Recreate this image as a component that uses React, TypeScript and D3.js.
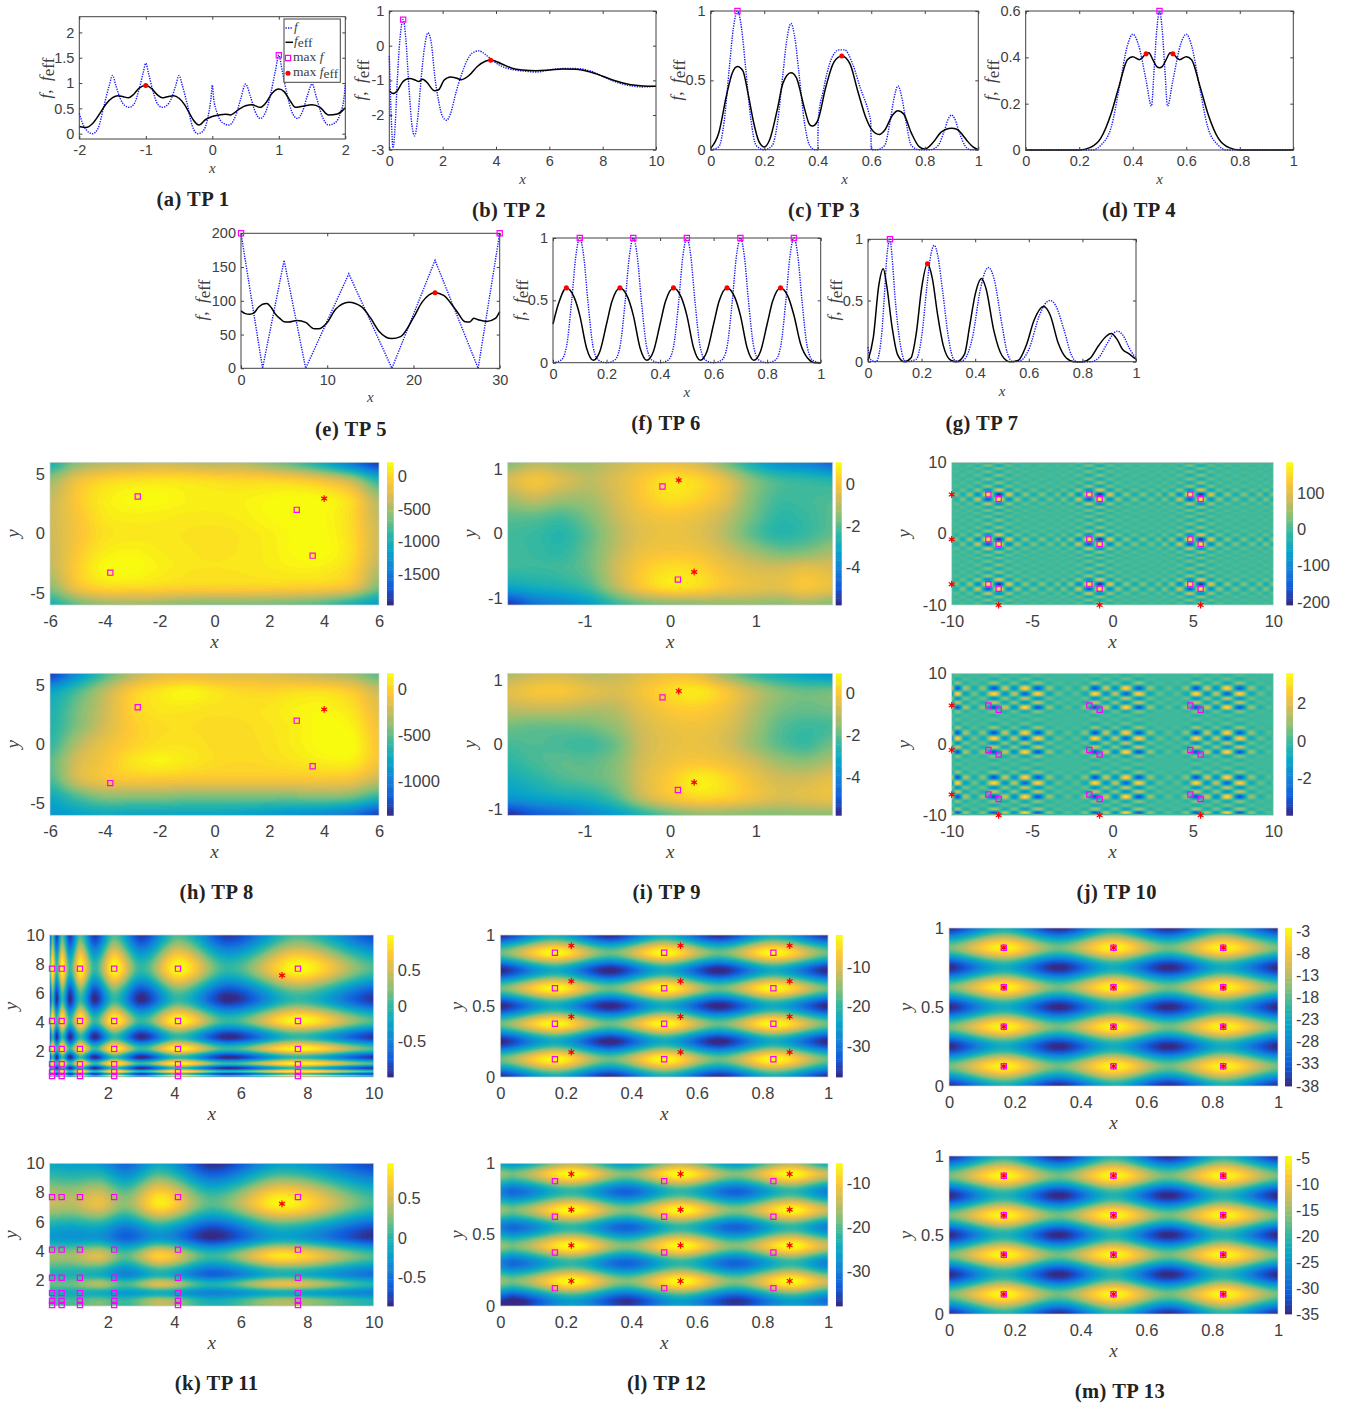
import React, { useEffect, useRef } from 'react';
import * as d3 from 'd3';

const SANS = '"Liberation Sans", Arial, sans-serif';
const SERIF = '"Liberation Serif", serif';
const INK = '#404040';
const PARULA = ['#352a87', '#0f5cdd', '#1481d6', '#06a4ca', '#2eb7a4', '#87bf77', '#d1bb59', '#fec832', '#f9fb0e'];

// ---- line panels: values ----
const tp1X = [-2, -1.92, -1.8, -1.72, -1.62, -1.55, -1.5, -1.45, -1.38, -1.32, -1.25, -1.18, -1.1, -1.04, -1, -0.96, -0.9, -0.82, -0.75, -0.68, -0.62, -0.55, -0.5, -0.45, -0.38, -0.3, -0.22, -0.14, -0.07, -0.02, 0, 0.02, 0.07, 0.15, 0.25, 0.35, 0.43, 0.5, 0.57, 0.64, 0.72, 0.8, 0.88, 0.95, 1, 1.05, 1.12, 1.2, 1.28, 1.36, 1.43, 1.5, 1.57, 1.65, 1.75, 1.85, 1.93, 1.98, 2];
const tp1F = [0.4, 0.12, 0, 0.1, 0.6, 0.95, 1.15, 0.95, 0.68, 0.56, 0.52, 0.58, 0.88, 1.2, 1.39, 1.2, 0.88, 0.58, 0.52, 0.56, 0.68, 0.95, 1.15, 0.95, 0.6, 0.15, 0, 0.05, 0.3, 0.7, 0.96, 0.7, 0.42, 0.22, 0.17, 0.35, 0.7, 0.98, 0.75, 0.45, 0.3, 0.42, 0.8, 1.25, 1.55, 1.25, 0.8, 0.42, 0.3, 0.45, 0.75, 0.98, 0.7, 0.35, 0.17, 0.22, 0.42, 0.7, 0.96];
const tp1EffX = [-2, -1.9, -1.8, -1.7, -1.6, -1.5, -1.42, -1.34, -1.26, -1.18, -1.1, -1, -0.92, -0.82, -0.75, -0.68, -0.58, -0.5, -0.42, -0.35, -0.28, -0.2, -0.1, 0, 0.1, 0.2, 0.27, 0.4, 0.5, 0.6, 0.72, 0.8, 0.9, 1, 1.08, 1.17, 1.25, 1.35, 1.5, 1.62, 1.75, 1.88, 2];
const tp1Eff = [0.14, 0.12, 0.2, 0.38, 0.58, 0.71, 0.75, 0.73, 0.71, 0.78, 0.9, 0.95, 0.9, 0.76, 0.71, 0.73, 0.75, 0.7, 0.58, 0.42, 0.26, 0.17, 0.28, 0.34, 0.37, 0.385, 0.37, 0.48, 0.55, 0.57, 0.52, 0.6, 0.8, 0.88, 0.83, 0.65, 0.52, 0.54, 0.57, 0.52, 0.37, 0.39, 0.51];

const tp2X = [0, 0.07, 0.14, 0.22, 0.3, 0.4, 0.52, 0.62, 0.72, 0.85, 0.95, 1.05, 1.2, 1.32, 1.45, 1.58, 1.7, 1.85, 2, 2.15, 2.3, 2.5, 2.7, 2.9, 3.1, 3.35, 3.6, 3.8, 4.1, 4.5, 5, 5.5, 6, 6.5, 7, 7.5, 8, 8.5, 9, 9.5, 10];
const tp2F = [-0.3, -2, -2.95, -2.3, -1, 0.2, 0.75, 0.2, -1, -2.3, -2.6, -2.2, -0.9, -0.05, 0.37, 0.05, -0.85, -1.6, -2.05, -2.15, -1.95, -1.35, -0.85, -0.45, -0.22, -0.15, -0.25, -0.38, -0.55, -0.67, -0.73, -0.76, -0.7, -0.66, -0.66, -0.72, -0.88, -1.05, -1.15, -1.19, -1.17];
const tp2EffX = [0, 0.15, 0.3, 0.5, 0.75, 1, 1.1, 1.25, 1.4, 1.7, 1.85, 2.05, 2.3, 2.5, 2.7, 3, 3.3, 3.6, 3.8, 4.2, 4.6, 5, 5.5, 6, 6.5, 7, 7.5, 8, 8.5, 9, 9.5, 10];
const tp2Eff = [-1.3, -1.38, -1.3, -1.05, -0.95, -1, -1.03, -0.97, -1.05, -1.3, -1.27, -1, -0.9, -0.93, -0.98, -0.85, -0.6, -0.45, -0.41, -0.52, -0.65, -0.7, -0.72, -0.7, -0.67, -0.68, -0.75, -0.88, -1.02, -1.12, -1.16, -1.17];

const tp3X = [0, 0.03, 0.05, 0.07, 0.085, 0.1, 0.115, 0.13, 0.15, 0.17, 0.2, 0.23, 0.25, 0.27, 0.285, 0.3, 0.315, 0.33, 0.35, 0.37, 0.39, 0.4, 0.402, 0.42, 0.45, 0.48, 0.5, 0.53, 0.56, 0.59, 0.598, 0.6, 0.62, 0.65, 0.67, 0.685, 0.7, 0.715, 0.73, 0.75, 0.78, 0.82, 0.85, 0.87, 0.89, 0.9, 0.91, 0.93, 0.95, 0.97, 1];
const tp3F = [0, 0.02, 0.2, 0.6, 0.88, 1, 0.88, 0.6, 0.22, 0.03, 0, 0.03, 0.2, 0.55, 0.8, 0.91, 0.8, 0.55, 0.2, 0.03, 0, 0, 0.22, 0.42, 0.65, 0.72, 0.72, 0.62, 0.44, 0.27, 0.2, 0, 0, 0.03, 0.2, 0.37, 0.46, 0.37, 0.2, 0.03, 0, 0, 0.03, 0.12, 0.23, 0.25, 0.23, 0.12, 0.03, 0, 0];
const tp3EffX = [0, 0.03, 0.06, 0.08, 0.1, 0.12, 0.14, 0.16, 0.18, 0.2, 0.22, 0.25, 0.27, 0.3, 0.32, 0.35, 0.37, 0.38, 0.4, 0.43, 0.46, 0.49, 0.52, 0.55, 0.58, 0.6, 0.63, 0.65, 0.68, 0.7, 0.72, 0.75, 0.78, 0.8, 0.83, 0.86, 0.88, 0.9, 0.92, 0.94, 0.96, 0.98, 1];
const tp3Eff = [0.01, 0.12, 0.4, 0.55, 0.6, 0.57, 0.4, 0.2, 0.06, 0.02, 0.07, 0.3, 0.48, 0.555, 0.52, 0.3, 0.18, 0.17, 0.21, 0.45, 0.63, 0.675, 0.62, 0.42, 0.23, 0.15, 0.11, 0.14, 0.25, 0.28, 0.26, 0.12, 0.02, 0.005, 0.05, 0.125, 0.148, 0.155, 0.148, 0.11, 0.06, 0.02, 0];

const tp4X = [0, 0.25, 0.28, 0.32, 0.35, 0.38, 0.4, 0.42, 0.45, 0.47, 0.48, 0.49, 0.5, 0.51, 0.52, 0.53, 0.55, 0.58, 0.6, 0.62, 0.65, 0.68, 0.72, 0.75, 1];
const tp4F = [0, 0, 0.02, 0.1, 0.27, 0.45, 0.5, 0.46, 0.3, 0.19, 0.35, 0.52, 0.6, 0.52, 0.35, 0.19, 0.3, 0.46, 0.5, 0.45, 0.27, 0.1, 0.02, 0, 0];
const tp4EffX = [0, 0.2, 0.24, 0.28, 0.32, 0.35, 0.38, 0.4, 0.425, 0.45, 0.46, 0.475, 0.49, 0.5, 0.51, 0.525, 0.54, 0.55, 0.575, 0.6, 0.62, 0.65, 0.68, 0.72, 0.76, 0.8, 1];
const tp4Eff = [0, 0, 0.01, 0.05, 0.16, 0.28, 0.39, 0.403, 0.39, 0.415, 0.42, 0.39, 0.36, 0.355, 0.36, 0.39, 0.42, 0.415, 0.39, 0.403, 0.39, 0.28, 0.16, 0.05, 0.01, 0, 0];

const tp5X = [0, 2.5, 5, 7.5, 12.5, 17.5, 22.5, 27.5, 30];
const tp5F = [200, 0, 160, 0, 140, 0, 160, 0, 200];
const tp5EffX = [0, 0.5, 1, 1.5, 2, 2.5, 3, 3.5, 4, 4.5, 5, 5.5, 6.5, 7.5, 8.5, 9, 10, 11, 12.5, 14, 15, 16, 17.5, 18.5, 20, 21, 22.5, 23.5, 25, 26, 26.5, 27, 27.5, 28.5, 29.5, 30];
const tp5Eff = [85, 81, 80, 82, 90, 95, 96, 90, 80, 74, 69, 68.5, 71, 68, 58.5, 58.5, 68, 88, 98, 91, 75, 55, 44, 47, 75, 98, 112, 108, 85, 69, 68.5, 74, 72, 69.5, 74, 84];

const tp6X = [0, 0.03, 0.05, 0.07, 0.085, 0.1, 0.115, 0.13, 0.15, 0.17, 0.2, 0.23, 0.25, 0.27, 0.285, 0.3, 0.315, 0.33, 0.35, 0.37, 0.4, 0.43, 0.45, 0.47, 0.485, 0.5, 0.515, 0.53, 0.55, 0.57, 0.6, 0.63, 0.65, 0.67, 0.685, 0.7, 0.715, 0.73, 0.75, 0.77, 0.8, 0.83, 0.85, 0.87, 0.885, 0.9, 0.915, 0.93, 0.95, 0.97, 1];
const tp6F = [0, 0.02, 0.125, 0.5, 0.85, 1, 0.85, 0.5, 0.125, 0.02, 0, 0.02, 0.125, 0.5, 0.85, 1, 0.85, 0.5, 0.125, 0.02, 0, 0.02, 0.125, 0.5, 0.85, 1, 0.85, 0.5, 0.125, 0.02, 0, 0.02, 0.125, 0.5, 0.85, 1, 0.85, 0.5, 0.125, 0.02, 0, 0.02, 0.125, 0.5, 0.85, 1, 0.85, 0.5, 0.125, 0.02, 0];
const tp6EffX = [0, 0.02, 0.05, 0.08, 0.1, 0.125, 0.15, 0.175, 0.2, 0.22, 0.25, 0.28, 0.3, 0.325, 0.35, 0.375, 0.4, 0.42, 0.45, 0.48, 0.5, 0.525, 0.55, 0.575, 0.6, 0.62, 0.65, 0.68, 0.7, 0.725, 0.75, 0.775, 0.8, 0.82, 0.85, 0.88, 0.9, 0.925, 0.95, 0.98, 1];
const tp6Eff = [0.31, 0.47, 0.6, 0.52, 0.38, 0.12, 0.02, 0.09, 0.31, 0.49, 0.6, 0.52, 0.38, 0.12, 0.02, 0.09, 0.31, 0.49, 0.6, 0.52, 0.38, 0.12, 0.02, 0.09, 0.31, 0.49, 0.6, 0.52, 0.38, 0.12, 0.02, 0.09, 0.31, 0.49, 0.6, 0.52, 0.38, 0.15, 0.04, 0, 0];

const tp7X = [0, 0.008, 0.03, 0.05, 0.06, 0.07, 0.082, 0.09, 0.1, 0.12, 0.14, 0.18, 0.2, 0.22, 0.235, 0.2475, 0.26, 0.28, 0.3, 0.32, 0.34, 0.36, 0.39, 0.42, 0.44, 0.45, 0.47, 0.5, 0.52, 0.54, 0.57, 0.6, 0.64, 0.66, 0.68, 0.7, 0.73, 0.76, 0.78, 0.83, 0.86, 0.89, 0.92, 0.93, 0.95, 0.98, 1];
const tp7F = [0.12, 0.02, 0, 0.2, 0.5, 0.85, 1, 0.85, 0.55, 0.15, 0, 0.02, 0.2, 0.62, 0.88, 0.95, 0.87, 0.55, 0.2, 0.02, 0, 0.02, 0.2, 0.6, 0.75, 0.77, 0.68, 0.3, 0.07, 0, 0.01, 0.1, 0.38, 0.47, 0.5, 0.46, 0.27, 0.05, 0, 0, 0.03, 0.14, 0.24, 0.25, 0.22, 0.09, 0.03];
const tp7EffX = [0, 0.02, 0.04, 0.057, 0.07, 0.09, 0.11, 0.135, 0.16, 0.18, 0.2, 0.222, 0.24, 0.26, 0.28, 0.31, 0.33, 0.36, 0.38, 0.4, 0.424, 0.44, 0.47, 0.5, 0.53, 0.56, 0.59, 0.62, 0.655, 0.68, 0.71, 0.74, 0.77, 0.8, 0.83, 0.86, 0.89, 0.907, 0.93, 0.95, 0.97, 1];
const tp7Eff = [0.01, 0.2, 0.62, 0.76, 0.62, 0.28, 0.06, 0, 0.03, 0.23, 0.6, 0.8, 0.68, 0.38, 0.14, 0.01, 0, 0.06, 0.3, 0.55, 0.68, 0.6, 0.25, 0.05, 0, 0.01, 0.13, 0.34, 0.45, 0.38, 0.15, 0.03, 0, 0, 0.03, 0.13, 0.21, 0.23, 0.18, 0.1, 0.07, 0.02];

// ---- heat map grids: rows run top to bottom, cells estimated by colour ----
const tp8X = [-6, -5, -4, -3, -2, -1, 0, 1, 2, 3, 4, 5, 6];
const tp8Y = [6, 4.5, 3, 1.5, 0, -1.5, -3, -4.5, -6];
const tp8Top = [
  [-1000, -600, -450, -400, -350, -400, -450, -450, -600, -800, -1100, -1500, -1900],
  [-550, -180, -10, 50, 70, 60, 30, 0, -10, -60, -180, -430, -950],
  [-400, -80, 110, 190, 190, 140, 120, 130, 170, 190, 160, -10, -500],
  [-350, -110, 90, 130, 120, 100, 100, 120, 180, 200, 180, 10, -400],
  [-350, -130, 50, 90, 90, 70, 55, 80, 130, 190, 190, 30, -350],
  [-380, -90, 110, 150, 110, 80, 60, 80, 120, 190, 200, 40, -350],
  [-420, -50, 180, 200, 130, 80, 70, 80, 100, 130, 110, -20, -450],
  [-600, -160, 10, 20, 0, -30, -30, -30, -30, -50, -70, -200, -650],
  [-1000, -700, -550, -520, -560, -620, -650, -650, -670, -700, -800, -1000, -1200],
];
const tp8Bottom = [
  [-1300, -900, -550, -300, -150, -130, -150, -160, -170, -220, -280, -350, -520],
  [-800, -550, -280, -30, 80, 140, 80, 30, 20, 50, 50, -30, -230],
  [-680, -450, -230, 10, 85, 85, 65, 65, 85, 130, 140, 70, -130],
  [-650, -420, -200, -20, 45, 55, 40, 45, 75, 115, 170, 130, -80],
  [-600, -300, -110, 0, 65, 75, 45, 40, 65, 115, 170, 170, -50],
  [-500, -200, -60, 70, 130, 90, 45, 30, 45, 75, 110, 110, -60],
  [-550, -220, -80, -50, -50, -60, -60, -60, -60, -60, -60, -90, -250],
  [-750, -550, -420, -420, -420, -450, -450, -450, -450, -450, -430, -480, -650],
  [-880, -800, -750, -770, -770, -780, -780, -800, -850, -900, -950, -1050, -1300],
];
const tp8Squares = [[-2.8, 3.13], [3, 2], [-3.8, -3.28], [3.58, -1.85]];
const tp8Stars = [[4, 2.95]];

const tp9X = [-1.9, -1.58, -1.27, -0.95, -0.63, -0.32, 0, 0.32, 0.63, 0.95, 1.27, 1.58, 1.9];
const tp9Y = [1.1, 0.825, 0.55, 0.275, 0, -0.275, -0.55, -0.825, -1.1];
const tp9Top = [
  [-1.6, -1, -1.2, -1.2, -0.8, -0.4, -0.3, -0.6, -1.6, -2.8, -3.7, -4, -4.7],
  [-0.6, -0.05, -0.5, -0.9, -0.5, 0.1, 0.6, 0.4, -0.3, -1.5, -2.2, -2.4, -2.6],
  [-1.2, -0.8, -1.2, -1.2, -0.6, 0.1, 0.55, 0.3, -0.3, -1.5, -2.2, -2.2, -2.1],
  [-1.9, -1.9, -2.1, -1.6, -0.8, -0.2, 0, -0.2, -0.8, -1.7, -2.4, -2.3, -2],
  [-2.2, -2.3, -2.5, -1.9, -1, -0.4, -0.2, -0.4, -1, -1.9, -2.5, -2.3, -1.9],
  [-2.2, -2.3, -2.4, -1.8, -0.9, -0.2, 0, -0.1, -0.6, -1.2, -1.7, -1.6, -1.2],
  [-2.3, -2.3, -2.2, -1.8, -0.7, 0.15, 0.55, 0.4, -0.1, -0.5, -0.6, -0.3, -0.5],
  [-3.2, -2.9, -2.7, -2.2, -1, 0.05, 0.6, 0.45, 0, -0.3, -0.4, 0, -0.3],
  [-5.6, -4.5, -4, -3.4, -2.4, -1.8, -1.6, -1.5, -1.4, -1.4, -1.5, -1.3, -1.6],
];
const tp9Bottom = [
  [-1.2, -0.8, -0.7, -1, -0.9, -0.5, -0.2, -0.4, -1.4, -2.3, -2.9, -3.3, -3.6],
  [-0.5, -0.1, -0.05, -0.4, -0.6, -0.1, 0.4, 0.6, 0, -0.9, -1.6, -1.9, -1.8],
  [-1, -0.9, -0.9, -1.1, -1, -0.4, 0.05, 0.15, -0.2, -1, -1.7, -1.9, -1.8],
  [-1.8, -1.9, -1.9, -1.8, -1.4, -0.7, -0.3, -0.2, -0.5, -1.2, -2, -2.3, -2.2],
  [-2.2, -2.1, -2.2, -2.3, -1.8, -0.8, -0.4, -0.3, -0.6, -1.3, -2, -2.3, -1.8],
  [-2.5, -2.2, -2, -2, -1.6, -0.7, -0.2, 0, -0.2, -0.7, -1.3, -1.5, -1.1],
  [-3, -2.6, -2.2, -2, -1.6, -0.6, 0.1, 0.7, 0.4, -0.2, -0.7, -0.7, -0.4],
  [-3.6, -3.3, -3, -2.8, -2.1, -0.9, -0.1, 0.3, 0.2, -0.2, -0.6, -0.5, -0.3],
  [-5.7, -5, -4.6, -4, -3.4, -2.6, -1.9, -1.5, -1.5, -1.6, -1.6, -1.5, -1.5],
];
const tp9Squares = [[-0.09, 0.727], [0.09, -0.708]];
const tp9Stars = [[0.1, 0.825], [0.28, -0.59]];

// TP10 is a checker: cell = -(band on x) * (band on y), with the bands read along the lobes
const tp10TopLines = [-10.17, -9.67, -9.33, -8.83, -8.35, -7.72, -7.08, -6.48, -5.95, -5.43, -4.9, -4.38, -3.88, -3.38, -3.05, -2.55, -2.07, -1.44, -0.8, -0.2, 0.33, 0.85, 1.38, 1.9, 2.4, 2.9, 3.23, 3.73, 4.21, 4.84, 5.48, 6.08, 6.61, 7.13, 7.66, 8.18, 8.68, 9.18, 9.52, 10.02];
const tp10TopBands = [2.4, -2.4, 3, -3.5, 6.5, -12.8, 14.5, -7.5, 4, -3.2, 2.8, -2.8, 2.4, -2.4, 3, -3.5, 6.5, -12.8, 14.5, -7.5, 4, -3.2, 2.8, -2.8, 2.4, -2.4, 3, -3.5, 6.5, -12.8, 14.5, -7.5, 4, -3.2, 2.8, -2.8, 2.4, -2.4, 3, -3.5];
const tp10BottomLines = [-10, -9.65, -9.2, -8.6, -8, -7.36, -6.7, -6.09, -5.43, -4.68, -4, -3.4, -2.8, -2.2, -1.6, -1.08, -0.42, 0.19, 0.85, 1.6, 2.28, 2.88, 3.48, 4.08, 4.68, 5.2, 5.86, 6.47, 7.13, 7.88, 8.56, 9.16, 9.76, 10];
const tp10BottomBands = [-1, 1.8, -0.7, 0.4, -0.5, 1.85, -1, 1, -1.7, 1.75, -0.55, 0.3, -0.2, 0.2, -0.45, 1.85, -1, 1, -1.7, 1.75, -0.55, 0.3, -0.2, 0.2, -0.45, 1.85, -1, 1, -1.7, 1.75, -0.55, 0.3, -0.2, 0.15];
const tp10Squares = [[-7.72, 5.48], [-7.08, 4.86], [-1.44, 5.48], [-0.8, 4.86], [4.84, 5.48], [5.48, 4.86], [-7.72, -0.8], [-7.08, -1.44], [-1.44, -0.8], [-0.8, -1.44], [4.84, -0.8], [5.48, -1.44], [-7.72, -7.08], [-7.08, -7.72], [-1.44, -7.08], [-0.8, -7.72], [4.84, -7.08], [5.48, -7.72]];
const tp10Stars = [[-10, 5.48], [-10, -0.8], [-10, -7.08], [-7.08, -10], [-0.8, -10], [5.48, -10]];

const tp11X = [0.25, 0.333, 0.456, 0.625, 0.855, 1.17, 1.6, 2.19, 3, 4.11, 5.62, 7.7, 10];
const tp11Y = [10, 7.7, 5.62, 4.11, 3, 2.19, 1.6, 1.17, 0.855, 0.625, 0.456, 0.333, 0.25];
const tp11Edge = [-0.9, 0.08, -0.92, 0.08, -0.92, 0.08, -0.92, 0.08, -0.92, 0.08, -0.92, 0.08, -0.85];
const tp11Peak = [0.02, 1, 0, 1, 0, 1, 0, 1, 0, 1, 0, 1, 0.08];
const tp11Trough = [-0.98, 0, -1, 0, -1, 0, -1, 0, -1, 0, -1, 0, -0.93];
const tp11Low = [-0.96, 0.02, -0.98, 0.02, -0.98, 0.02, -0.98, 0.02, -0.98, 0.02, -0.98, 0.02, -0.9];
const tp11Top = [tp11Edge, tp11Peak, tp11Trough, tp11Peak, tp11Trough, tp11Peak, tp11Trough, tp11Peak, tp11Trough, tp11Peak, tp11Trough, tp11Peak, tp11Low];
const tp11BottomX = [0.25, 0.9, 1.75, 2.55, 3.6, 5.15, 7.25, 10];
const tp11BottomY = [10, 7.3, 5.05, 3.7, 2.45, 1.75, 1.15, 0.65, 0.25];
const tp11Bottom = [
  [-0.15, -0.2, -0.25, -0.55, -0.15, -0.85, -0.2, -0.75],
  [0.45, 0.42, 0.6, 0.3, 0.88, 0.15, 0.93, 0.1],
  [-0.25, -0.3, -0.3, -0.6, -0.3, -0.87, -0.2, -0.85],
  [0.35, 0.35, 0.55, 0.15, 0.75, 0.05, 0.85, 0.1],
  [-0.05, -0.05, -0.1, -0.4, -0.05, -0.6, -0.05, -0.5],
  [0.2, 0.2, 0.4, 0.1, 0.55, -0.05, 0.6, -0.05],
  [-0.1, -0.1, -0.1, -0.25, -0.1, -0.4, -0.1, -0.4],
  [0.1, 0.1, 0.2, 0.05, 0.4, -0.1, 0.35, -0.05],
  [0.1, 0.1, 0.25, 0.05, 0.45, -0.05, 0.4, -0.05],
];
const tp11SquareX = [0.32, 0.61, 1.16, 2.19, 4.11, 7.72];
const tp11SquareY = [7.69, 4.1, 2.18, 1.13, 0.6, 0.32];
const tp11Stars = [[7.24, 7.23]];

const tp12X = [0, 1 / 6, 1 / 3, 1 / 2, 2 / 3, 5 / 6, 1];
const tp12Y = [1, 7 / 8, 3 / 4, 5 / 8, 1 / 2, 3 / 8, 1 / 4, 1 / 8, 0];
const tp12TopTrough = [-38, -23, -38, -23, -38, -23, -38];
const tp12TopPeak = [-17, -2, -17, -2, -17, -2, -17];
const tp12Top = [tp12TopTrough, tp12TopPeak, tp12TopTrough, tp12TopPeak, tp12TopTrough, tp12TopPeak, tp12TopTrough, tp12TopPeak, tp12TopTrough];
const tp12BottomX = [0, 0.05, 0.217, 0.383, 0.55, 0.717, 0.883, 1];
const tp12BottomY = [1, 0.922, 0.8, 0.672, 0.55, 0.422, 0.3, 0.172, 0.05, 0];
const tp12BottomEdge = [-26, -27, -15, -27, -15, -27, -15, -25];
const tp12BottomPeak = [-17, -18, -5.5, -18, -5.5, -18, -5.5, -14];
const tp12BottomTrough = [-30, -32, -22, -33, -22, -33, -22, -30];
const tp12BottomLow = [-35, -37, -25, -36, -25, -36, -25, -31];
const tp12BottomFloor = [-37, -38, -26, -36, -26, -36, -26, -30];
const tp12Bottom = [tp12BottomEdge, tp12BottomPeak, tp12BottomTrough, tp12BottomPeak, tp12BottomTrough, tp12BottomPeak, tp12BottomTrough, tp12BottomPeak, tp12BottomLow, tp12BottomFloor];
const tp12SquareX = [1 / 6, 1 / 2, 5 / 6];
const tp12SquareY = [0.125, 0.375, 0.625, 0.875];
const tp12StarX = [0.2167, 0.55, 0.883];
const tp12StarY = [0.175, 0.425, 0.675, 0.925];

const tp13TopTrough = [-38, -23, -38, -23, -38, -23, -38];
const tp13TopPeak = [-17, -3, -17, -3, -17, -3, -17];
const tp13Top = [tp13TopTrough, tp13TopPeak, tp13TopTrough, tp13TopPeak, tp13TopTrough, tp13TopPeak, tp13TopTrough, tp13TopPeak, tp13TopTrough];
const tp13BottomTrough = [-35, -21, -35, -21, -35, -21, -35];
const tp13BottomPeak = [-17, -5, -17, -5, -17, -5, -17];
const tp13Bottom = [tp13BottomTrough, tp13BottomPeak, tp13BottomTrough, tp13BottomPeak, tp13BottomTrough, tp13BottomPeak, tp13BottomTrough, tp13BottomPeak, tp13BottomTrough];

const ticks01 = [0, 0.2, 0.4, 0.6, 0.8, 1];

// layout tables built from the arrays above
const linePanels = [
  { box: [79.3, 345.3, 16.7, 139], xDom: [-2, 2], yDom: [-0.105, 2.31], xTicks: [-2, -1, 0, 1, 2], yTicks: [0, 0.5, 1, 1.5, 2], f: [tp1X, tp1F], eff: [tp1EffX, tp1Eff], maxF: [[1, 1.55]], maxEff: [[-1, 0.95]], labelX: 46, labelY: 78 },
  { box: [389.3, 656, 11, 149.7], xDom: [0, 10], yDom: [-3, 1], xTicks: [0, 2, 4, 6, 8, 10], yTicks: [-3, -2, -1, 0, 1], f: [tp2X, tp2F], eff: [tp2EffX, tp2Eff], maxF: [[0.52, 0.75]], maxEff: [[3.8, -0.42]], labelX: 361, labelY: 80 },
  { box: [710.7, 978.3, 11, 149.7], xDom: [0, 1], yDom: [0, 1], xTicks: ticks01, yTicks: [0, 0.5, 1], f: [tp3X, tp3F], eff: [tp3EffX, tp3Eff], maxF: [[0.1, 1]], maxEff: [[0.49, 0.675]], labelX: 677, labelY: 80 },
  { box: [1025.7, 1293.3, 11, 150], xDom: [0, 1], yDom: [0, 0.6], xTicks: ticks01, yTicks: [0, 0.2, 0.4, 0.6], f: [tp4X, tp4F], eff: [tp4EffX, tp4Eff], maxF: [[0.5, 0.6]], maxEff: [[0.45, 0.415], [0.55, 0.415]], labelX: 991, labelY: 80 },
  { box: [241, 499.7, 233.3, 368.3], xDom: [0, 30], yDom: [0, 200], xTicks: [0, 10, 20, 30], yTicks: [0, 50, 100, 150, 200], f: [tp5X, tp5F], fLinear: true, eff: [tp5EffX, tp5Eff], maxF: [[0, 200], [30, 200]], maxEff: [[22.5, 112]], labelX: 202, labelY: 300 },
  { box: [553, 820.7, 238, 362.7], xDom: [0, 1], yDom: [0, 1], xTicks: ticks01, yTicks: [0, 0.5, 1], f: [tp6X, tp6F], eff: [tp6EffX, tp6Eff], maxF: [[0.1, 1], [0.3, 1], [0.5, 1], [0.7, 1], [0.9, 1]], maxEff: [[0.05, 0.6], [0.25, 0.6], [0.45, 0.6], [0.65, 0.6], [0.85, 0.6]], labelX: 520, labelY: 300 },
  { box: [868, 1136, 239.3, 361.7], xDom: [0, 1], yDom: [0, 1], xTicks: ticks01, yTicks: [0, 0.5, 1], f: [tp7X, tp7F], eff: [tp7EffX, tp7Eff], maxF: [[0.082, 1]], maxEff: [[0.222, 0.8]], labelX: 834, labelY: 300 },
];

const outer = (bands: number[]) => bands.slice().reverse().map(by => bands.map(bx => -bx * by));
const cross = (xs: number[], ys: number[]) => ys.flatMap(y => xs.map(x => [x, y]));

const heatPanels = [
  { box: [50, 379, 462.3, 605], cbar: [387, 393.7], cDom: [-1970, 210], cTicks: [0, -500, -1000, -1500], xDom: [-6, 6], yDom: [-6, 6], xTicks: [-6, -4, -2, 0, 2, 4, 6], yTicks: [-5, 0, 5], xLines: tp8X, yLines: tp8Y, grid: tp8Top, squares: tp8Squares, stars: tp8Stars, labelX: 17 },
  { box: [50, 379, 673.3, 815.3], cbar: [387, 393.7], cDom: [-1378, 175], cTicks: [0, -500, -1000], xDom: [-6, 6], yDom: [-6, 6], xTicks: [-6, -4, -2, 0, 2, 4, 6], yTicks: [-5, 0, 5], xLines: tp8X, yLines: tp8Y, grid: tp8Bottom, squares: tp8Squares, stars: tp8Stars, labelX: 17 },
  { box: [507.7, 832.7, 462.3, 605], cbar: [835.7, 841.7], cDom: [-5.8, 1.04], cTicks: [0, -2, -4], xDom: [-1.9, 1.9], yDom: [-1.1, 1.1], xTicks: [-1, 0, 1], yTicks: [-1, 0, 1], xLines: tp9X, yLines: tp9Y, grid: tp9Top, squares: tp9Squares, stars: tp9Stars, labelX: 474 },
  { box: [507.7, 832.7, 673.3, 815.3], cbar: [835.7, 841.7], cDom: [-5.8, 0.95], cTicks: [0, -2, -4], xDom: [-1.9, 1.9], yDom: [-1.1, 1.1], xTicks: [-1, 0, 1], yTicks: [-1, 0, 1], xLines: tp9X, yLines: tp9Y, grid: tp9Bottom, squares: tp9Squares, stars: tp9Stars, labelX: 474 },
  { box: [951.7, 1273.3, 462.3, 605], cbar: [1286.3, 1293], cDom: [-209, 186], cTicks: [100, 0, -100, -200], xDom: [-10, 10], yDom: [-10, 10], xTicks: [-10, -5, 0, 5, 10], yTicks: [-10, 0, 10], xLines: tp10TopLines, yLines: tp10TopLines.slice().reverse(), grid: outer(tp10TopBands), squares: tp10Squares, stars: tp10Stars, labelX: 908 },
  { box: [951.7, 1273.3, 673.3, 815.3], cbar: [1286.3, 1293], cDom: [-3.95, 3.6], cTicks: [2, 0, -2], xDom: [-10, 10], yDom: [-10, 10], xTicks: [-10, -5, 0, 5, 10], yTicks: [-10, 0, 10], xLines: tp10BottomLines, yLines: tp10BottomLines.slice().reverse(), grid: outer(tp10BottomBands), squares: tp10Squares, stars: tp10Stars, labelX: 908 },
  { box: [49.7, 373.7, 935, 1077], cbar: [387.3, 393.7], cDom: [-1, 1], cTicks: [0.5, 0, -0.5], xDom: [0.25, 10], yDom: [0.25, 10], xTicks: [2, 4, 6, 8, 10], yTicks: [2, 4, 6, 8, 10], xLines: tp11X, yLines: tp11Y, grid: tp11Top, squares: cross(tp11SquareX, tp11SquareY), stars: tp11Stars, labelX: 15 },
  { box: [49.7, 373.7, 1163.3, 1306], cbar: [387.3, 393.7], cDom: [-0.87, 0.95], cTicks: [0.5, 0, -0.5], xDom: [0.25, 10], yDom: [0.25, 10], xTicks: [2, 4, 6, 8, 10], yTicks: [2, 4, 6, 8, 10], xLines: tp11BottomX, yLines: tp11BottomY, grid: tp11Bottom, squares: cross(tp11SquareX, tp11SquareY), stars: tp11Stars, labelX: 15 },
  { box: [500.3, 828, 935, 1077], cbar: [836, 842.7], cDom: [-37.8, -1.9], cTicks: [-10, -20, -30], xDom: [0, 1], yDom: [0, 1], xTicks: ticks01, yTicks: [0, 0.5, 1], xLines: tp12X, yLines: tp12Y, grid: tp12Top, squares: cross(tp12SquareX, tp12SquareY), stars: cross(tp12StarX, tp12StarY), labelX: 461 },
  { box: [500.3, 828, 1163.3, 1306], cbar: [836, 842.7], cDom: [-38, -5.5], cTicks: [-10, -20, -30], xDom: [0, 1], yDom: [0, 1], xTicks: ticks01, yTicks: [0, 0.5, 1], xLines: tp12BottomX, yLines: tp12BottomY, grid: tp12Bottom, squares: cross(tp12SquareX, tp12SquareY), stars: cross(tp12StarX, tp12StarY), labelX: 461 },
  { box: [949, 1278, 928, 1086], cbar: [1285, 1292], cDom: [-38, -2.3], cTicks: [-3, -8, -13, -18, -23, -28, -33, -38], xDom: [0, 1], yDom: [0, 1], xTicks: ticks01, yTicks: [0, 0.5, 1], xLines: tp12X, yLines: tp12Y, grid: tp13Top, squares: cross(tp12SquareX, tp12SquareY), stars: cross(tp12SquareX, tp12SquareY), labelX: 910, cSize: 16 },
  { box: [949, 1278, 1156, 1314], cbar: [1285, 1292], cDom: [-35, -4.6], cTicks: [-5, -10, -15, -20, -25, -30, -35], xDom: [0, 1], yDom: [0, 1], xTicks: ticks01, yTicks: [0, 0.5, 1], xLines: tp12X, yLines: tp12Y, grid: tp13Bottom, squares: cross(tp12SquareX, tp12SquareY), stars: cross(tp12SquareX, tp12SquareY), labelX: 910, cSize: 16 },
];

const captions: [string, number, number][] = [
  ['(a) TP 1', 193, 206], ['(b) TP 2', 509, 217], ['(c) TP 3', 824, 217], ['(d) TP 4', 1139, 217],
  ['(e) TP 5', 351, 436], ['(f) TP 6', 666, 430], ['(g) TP 7', 982, 430],
  ['(h) TP 8', 216.7, 899], ['(i) TP 9', 666.7, 899], ['(j) TP 10', 1116.7, 899],
  ['(k) TP 11', 216.7, 1390], ['(l) TP 12', 666.7, 1390], ['(m) TP 13', 1120, 1398],
];

function styleAxis(g: any, size: number) {
  g.attr('font-family', SANS).attr('font-size', size);
  g.select('.domain').remove();
  g.selectAll('text').attr('fill', INK);
  g.selectAll('line').attr('stroke', INK);
}

// "f, f_eff" / "max f_eff" style text, fragments are [text, italic, subscript]
function mathText(parent: any, parts: [string, boolean, boolean][], size: number) {
  const t = parent.append('text').attr('font-family', SERIF).attr('font-size', size).attr('fill', INK);
  let wasSub = false;
  parts.forEach(([s, italic, sub]) => {
    const span = t.append('tspan').text(s).attr('font-style', italic ? 'italic' : 'normal');
    if (sub) span.attr('dy', size * 0.18);
    else if (wasSub) span.attr('dy', -size * 0.18);
    wasSub = sub;
  });
  return t;
}

const F_EFF: [string, boolean, boolean][] = [['f', true, false], ['eff', false, true]];

function drawMarkers(g: any, x: any, y: any, squares: number[][], stars: number[][], dots: number[][]) {
  g.selectAll(null).data(dots).enter().append('path')
    .attr('d', d3.symbol(d3.symbolCircle, 20))
    .attr('transform', (d: number[]) => `translate(${x(d[0])},${y(d[1])})`)
    .attr('fill', '#ff0000');
  g.selectAll(null).data(stars).enter().append('path')
    .attr('d', d3.symbol(d3.symbolAsterisk, 32))
    .attr('transform', (d: number[]) => `translate(${x(d[0])},${y(d[1])})`)
    .attr('fill', 'none').attr('stroke', '#ff0000').attr('stroke-width', 1.2);
  g.selectAll(null).data(stars).enter().append('circle')
    .attr('cx', (d: number[]) => x(d[0])).attr('cy', (d: number[]) => y(d[1])).attr('r', 1.4).attr('fill', '#ff0000');
  g.selectAll(null).data(squares).enter().append('path')
    .attr('d', d3.symbol(d3.symbolSquare, 27))
    .attr('transform', (d: number[]) => `translate(${x(d[0])},${y(d[1])})`)
    .attr('fill', 'none').attr('stroke', '#ff00ff').attr('stroke-width', 1.2);
}

function drawLinePanel(svg: any, p: any) {
  const [x0, x1, y0, y1] = p.box;
  const x = d3.scaleLinear().domain(p.xDom).range([x0, x1]);
  const y = d3.scaleLinear().domain(p.yDom).range([y1, y0]);
  const g = svg.append('g');

  const path = (xs: number[], ys: number[], curve: any) =>
    d3.line<number>().x(d => x(d)).y((_, i) => y(ys[i])).curve(curve)(xs);

  g.append('path').attr('d', path(p.f[0], p.f[1], p.fLinear ? d3.curveLinear : d3.curveMonotoneX))
    .attr('fill', 'none').attr('stroke', '#1414ff').attr('stroke-width', 1.4).attr('stroke-dasharray', '1.3 1.2');
  g.append('path').attr('d', path(p.eff[0], p.eff[1], d3.curveMonotoneX))
    .attr('fill', 'none').attr('stroke', '#000').attr('stroke-width', 1.5);

  g.append('rect').attr('x', x0).attr('y', y0).attr('width', x1 - x0).attr('height', y1 - y0)
    .attr('fill', 'none').attr('stroke', INK).attr('stroke-width', 1);

  const bottom = g.append('g').attr('transform', `translate(0,${y1})`)
    .call(d3.axisBottom(x).tickValues(p.xTicks).tickSize(-3).tickPadding(6).tickFormat((d: any) => String(d)));
  const left = g.append('g').attr('transform', `translate(${x0},0)`)
    .call(d3.axisLeft(y).tickValues(p.yTicks).tickSize(-3).tickPadding(5).tickFormat((d: any) => String(d)));
  const top = g.append('g').attr('transform', `translate(0,${y0})`)
    .call(d3.axisTop(x).tickValues(p.xTicks).tickSize(-3).tickFormat(() => ''));
  const right = g.append('g').attr('transform', `translate(${x1},0)`)
    .call(d3.axisRight(y).tickValues(p.yTicks).tickSize(-3).tickFormat(() => ''));
  [bottom, left, top, right].forEach(a => styleAxis(a, 14.5));

  drawMarkers(g, x, y, p.maxF, [], p.maxEff);

  g.append('text').attr('x', (x0 + x1) / 2).attr('y', y1 + 34).attr('text-anchor', 'middle')
    .attr('font-family', SERIF).attr('font-style', 'italic').attr('font-size', 15).attr('fill', INK).text('x');
  const yl = mathText(g, [['f', true, false], [',\u2002', false, false], ...F_EFF], 17);
  yl.attr('text-anchor', 'middle').attr('transform', `translate(${p.labelX + 5},${p.labelY}) rotate(-90)`);
}

// MATLAB-style interpolated shading of the read grid, painted to a canvas
function catmull(a: number, b: number, c: number, d: number, t: number) {
  return 0.5 * (2 * b + (c - a) * t + (2 * a - 5 * b + 4 * c - d) * t * t + (3 * b - a - 3 * c + d) * t * t * t);
}

function fieldImage(p: any, x: any, y: any, color: any) {
  const W = Math.round(p.box[1] - p.box[0]);
  const H = Math.round(p.box[3] - p.box[2]);
  const cols = p.xLines.length;
  const rows = p.yLines.length;
  const xIdx = d3.scaleLinear().domain(p.xLines).range(d3.range(cols)).clamp(true);
  const yIdx = d3.scaleLinear().domain(p.yLines).range(d3.range(rows)).clamp(true);

  const canvas = document.createElement('canvas');
  canvas.width = W;
  canvas.height = H;
  const ctx = canvas.getContext('2d') as CanvasRenderingContext2D;
  const img = ctx.createImageData(W, H);

  const across = p.grid.map((row: number[]) => {
    const out = new Float64Array(W);
    for (let i = 0; i < W; i++) {
      const u = xIdx(x.invert(p.box[0] + ((i + 0.5) * (p.box[1] - p.box[0])) / W));
      const k = Math.min(Math.floor(u), cols - 2);
      out[i] = catmull(row[Math.max(k - 1, 0)], row[k], row[k + 1], row[Math.min(k + 2, cols - 1)], u - k);
    }
    return out;
  });
  for (let j = 0; j < H; j++) {
    const v = yIdx(y.invert(p.box[2] + ((j + 0.5) * (p.box[3] - p.box[2])) / H));
    const k = Math.min(Math.floor(v), rows - 2);
    const a = across[Math.max(k - 1, 0)];
    const b = across[k];
    const c = across[k + 1];
    const d = across[Math.min(k + 2, rows - 1)];
    for (let i = 0; i < W; i++) {
      const col = color(catmull(a[i], b[i], c[i], d[i], v - k));
      const o = (j * W + i) * 4;
      img.data[o] = col.r;
      img.data[o + 1] = col.g;
      img.data[o + 2] = col.b;
      img.data[o + 3] = 255;
    }
  }
  ctx.putImageData(img, 0, 0);
  return canvas.toDataURL('image/png');
}

function drawHeatPanel(svg: any, p: any) {
  const [x0, x1, y0, y1] = p.box;
  const x = d3.scaleLinear().domain(p.xDom).range([x0, x1]);
  const y = d3.scaleLinear().domain(p.yDom).range([y1, y0]);
  const steps = d3.quantize(d3.piecewise(d3.interpolateRgb, PARULA), 64).map(c => d3.rgb(c));
  const color = d3.scaleQuantize<any>().domain(p.cDom).range(steps);
  const g = svg.append('g');

  g.append('image').attr('href', fieldImage(p, x, y, color))
    .attr('x', x0).attr('y', y0).attr('width', x1 - x0).attr('height', y1 - y0)
    .attr('preserveAspectRatio', 'none');
  g.append('rect').attr('x', x0).attr('y', y0).attr('width', x1 - x0).attr('height', y1 - y0)
    .attr('fill', 'none').attr('stroke', '#cdd5c8').attr('stroke-width', 0.7);

  const bottom = g.append('g').attr('transform', `translate(0,${y1})`)
    .call(d3.axisBottom(x).tickValues(p.xTicks).tickSize(0).tickPadding(10).tickFormat((d: any) => String(d)));
  const left = g.append('g').attr('transform', `translate(${x0},0)`)
    .call(d3.axisLeft(y).tickValues(p.yTicks).tickSize(0).tickPadding(5).tickFormat((d: any) => String(d)));
  styleAxis(bottom, 16.5);
  styleAxis(left, 16.5);

  drawMarkers(g, x, y, p.squares, p.stars, []);

  // colour bar
  const [c0, c1] = p.cbar;
  const cy = d3.scaleLinear().domain(p.cDom).range([y1, y0]);
  const band = d3.scaleBand<number>().domain(d3.range(64)).range([y1, y0]);
  g.append('g').selectAll('rect').data(steps).enter().append('rect')
    .attr('x', c0).attr('width', c1 - c0)
    .attr('y', (_: any, i: number) => band(i) as number).attr('height', band.bandwidth() + 0.4)
    .attr('fill', (d: any) => d.formatHex());
  const cAxis = g.append('g').attr('transform', `translate(${c1},0)`)
    .call(d3.axisRight(cy).tickValues(p.cTicks).tickSize(0).tickPadding(4).tickFormat((d: any) => String(d)));
  styleAxis(cAxis, p.cSize || 16.5);

  const xMid = (x0 + x1) / 2;
  g.append('text').attr('x', xMid).attr('y', y1 + 43).attr('text-anchor', 'middle')
    .attr('font-family', SERIF).attr('font-style', 'italic').attr('font-size', 19).attr('fill', INK).text('x');
  g.append('text').attr('text-anchor', 'middle').attr('transform', `translate(${p.labelX + 2},${(y0 + y1) / 2}) rotate(-90)`)
    .attr('font-family', SERIF).attr('font-style', 'italic').attr('font-size', 19).attr('fill', INK).text('y');
}

function drawLegend(svg: any) {
  const g = svg.append('g');
  g.append('rect').attr('x', 284).attr('y', 19).attr('width', 56.3).attr('height', 63.3)
    .attr('fill', '#fff').attr('stroke', INK).attr('stroke-width', 1);
  g.append('line').attr('x1', 285.5).attr('x2', 293).attr('y1', 28).attr('y2', 28)
    .attr('stroke', '#1414ff').attr('stroke-width', 1.4).attr('stroke-dasharray', '1.3 1.2');
  g.append('line').attr('x1', 285.5).attr('x2', 293).attr('y1', 42.3).attr('y2', 42.3)
    .attr('stroke', '#000').attr('stroke-width', 1.5);
  drawMarkers(g, (d: number) => d, (d: number) => d, [[288, 58]], [], [[288, 73.3]]);
  mathText(g, [['f', true, false]], 13.5).attr('x', 294).attr('y', 31);
  mathText(g, F_EFF, 13.5).attr('x', 294).attr('y', 45);
  mathText(g, [['max ', false, false], ['f', true, false]], 13.5).attr('x', 293).attr('y', 61);
  mathText(g, [['max ', false, false], ...F_EFF], 13.5).attr('x', 293).attr('y', 76);
}

export default function App() {
  const svgRef = useRef<SVGSVGElement>(null);

  useEffect(() => {
    const svg = d3.select(svgRef.current);
    svg.selectAll('*').remove();
    linePanels.forEach(p => drawLinePanel(svg, p));
    drawLegend(svg);
    heatPanels.forEach(p => drawHeatPanel(svg, p));
    svg.append('g').selectAll('text').data(captions).enter().append('text')
      .attr('x', d => d[1]).attr('y', d => d[2]).attr('text-anchor', 'middle')
      .attr('font-family', SERIF).attr('font-weight', 'bold').attr('font-size', 20.5)
      .attr('letter-spacing', 0.5).attr('fill', '#222')
      .text(d => d[0]);
  }, []);

  return (
    <svg
      ref={svgRef}
      width={1346}
      height={1405}
      style={{ position: 'absolute', left: 0, top: 0, background: '#fff' }}
    />
  );
}
